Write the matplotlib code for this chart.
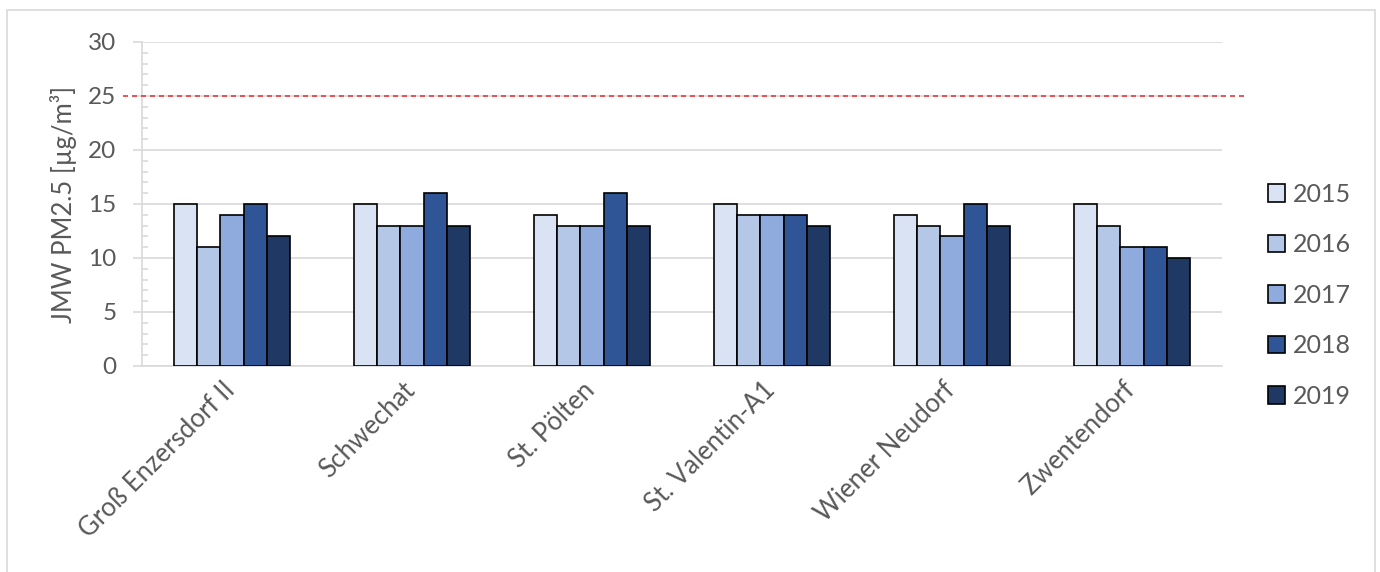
import matplotlib
matplotlib.use("Agg")
import matplotlib.pyplot as plt
import numpy as np
from matplotlib.patches import Rectangle
from matplotlib.ticker import MultipleLocator
from matplotlib.transforms import ScaledTranslation

plt.rcParams['font.family'] = ['Lato', 'DejaVu Sans']

stations = ["Groß Enzersdorf II", "Schwechat", "St. Pölten",
            "St. Valentin-A1", "Wiener Neudorf", "Zwentendorf"]
years = ["2015", "2016", "2017", "2018", "2019"]
values_2015 = [15, 15, 14, 15, 14, 15]
values_2016 = [11, 13, 13, 14, 13, 13]
values_2017 = [14, 13, 13, 14, 12, 11]
values_2018 = [15, 16, 16, 14, 15, 11]
values_2019 = [12, 13, 13, 13, 13, 10]
limit_value = 25
y_ticks = [0, 5, 10, 15, 20, 25, 30]

series = [values_2015, values_2016, values_2017, values_2018, values_2019]
colors = ["#DAE3F3", "#B4C7E7", "#8FAADC", "#2F5597", "#203864"]
text_color = "#595959"
grid_color = "#D9D9D9"

fig = plt.figure(figsize=(13.8, 5.72), dpi=100)
ax = fig.add_axes([142 / 1380, 1 - 366 / 572, 1080 / 1380, 324 / 572])

# outer chart frame
fig.patches.append(Rectangle((7 / 1380, -0.05), 1368 / 1380, 1 - 10 / 572 + 0.05,
                             transform=fig.transFigure, fill=False,
                             edgecolor=grid_color, linewidth=1.2))

x = np.arange(len(stations))
bar_w = 0.129
for i, (vals, col, yr) in enumerate(zip(series, colors, years)):
    offs = (i - 2) * bar_w
    ax.bar(x + offs, vals, width=bar_w, color=col, edgecolor="black",
           linewidth=1.2, label=yr, zorder=3)

ax.set_xlim(-0.5, len(stations) - 0.5)
ax.set_ylim(0, 30)
ax.set_yticks(y_ticks)
ax.yaxis.set_minor_locator(MultipleLocator(1))
ax.yaxis.grid(True, color=grid_color, linewidth=1.2, zorder=0)
ax.set_axisbelow(True)

for s in ["top", "right"]:
    ax.spines[s].set_visible(False)
for s in ["left", "bottom"]:
    ax.spines[s].set_color(grid_color)
    ax.spines[s].set_linewidth(1.2)

ax.tick_params(axis="y", which="major", direction="out", length=6.5,
               color=grid_color, width=1.2, labelsize=17.5, labelcolor=text_color, pad=12)
ax.tick_params(axis="y", which="minor", direction="in", length=4.5,
               color=grid_color, width=1.2)
ax.tick_params(axis="x", length=0, labelsize=18.5, labelcolor=text_color, pad=8)

ax.set_xticks(x)
ax.set_xticklabels(stations, rotation=45, ha="right", rotation_mode="anchor")
shift = ScaledTranslation(-10 / 100, 0, fig.dpi_scale_trans)
for lbl in ax.get_xticklabels():
    lbl.set_transform(lbl.get_transform() + shift)

ax.set_ylabel("JMW PM2.5 [µg/m³]", fontsize=18.5, color=text_color, labelpad=8)

# annual limit value
ax.axhline(limit_value, xmin=-0.0176, xmax=1.021, color="#E8393A",
           linestyle=(0, (3, 2.4)), linewidth=1.2, clip_on=False, zorder=4)

leg = ax.legend(loc="upper left", bbox_to_anchor=(1245 / 1380, 1 - 160 / 572),
                bbox_transform=fig.transFigure, frameon=False, fontsize=18,
                labelspacing=1.1, handlelength=0.7, handleheight=0.7,
                handletextpad=0.3, labelcolor=text_color)

fig.savefig("out.png", dpi=100)
